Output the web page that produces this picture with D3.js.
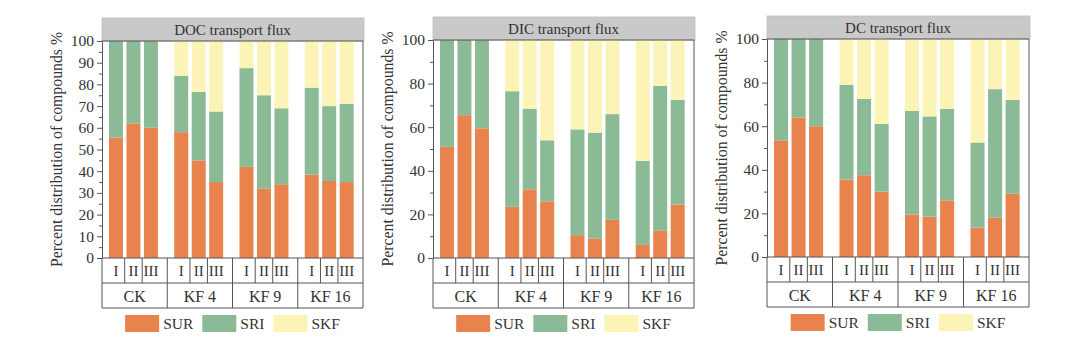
<!DOCTYPE html>
<html>
<head>
<meta charset="utf-8">
<script src="https://cdn.jsdelivr.net/npm/d3@7/dist/d3.min.js"></script>
<style>
  html, body { margin: 0; padding: 0; background: #fff; }
  svg { display: block; }
  text { font-family: "Liberation Serif", "DejaVu Serif", serif; fill: #333; }
</style>
</head>
<body>
<svg id="chart" width="1080" height="347"></svg>
<script>
// ---------- data ----------
const groups = ["CK", "KF 4", "KF 9", "KF 16"];
const reps = ["I", "II", "III"];
const seriesNames = ["SUR", "SRI", "SKF"];

const docSUR = [55.5, 62, 60, 58, 45, 35, 42, 32, 34, 38.5, 35.5, 35];
const docSRI = [44.5, 38, 40, 26, 31.5, 32.5, 45.5, 43, 35, 40, 34.5, 36];
const docSKF = [0, 0, 0, 16, 23.5, 32.5, 12.5, 25, 31, 21.5, 30, 29];

const dicSUR = [51, 65.5, 59.5, 23.5, 31.5, 26, 10.5, 9, 17.5, 6, 12.5, 24.5];
const dicSRI = [49, 34.5, 40.5, 53, 37, 28, 48.5, 48.5, 48.5, 38.5, 66.5, 48];
const dicSKF = [0, 0, 0, 23.5, 31.5, 46, 41, 42.5, 34, 55.5, 21, 27.5];

const dcSUR = [53.5, 64, 60, 35.5, 37.5, 30, 19.5, 18.5, 26, 13.5, 18, 29];
const dcSRI = [46.5, 36, 40, 43.5, 35, 31, 47.5, 46, 42, 39, 59, 43];
const dcSKF = [0, 0, 0, 21, 27.5, 39, 33, 35.5, 32, 47.5, 23, 28];

const panelTitles = ["DOC transport flux", "DIC transport flux", "DC transport flux"];
const yTitle = "Percent distribution of compounds %";
const yTicksMajor = [[0,10,20,30,40,50,60,70,80,90,100], [0,20,40,60,80,100], [0,20,40,60,80,100]];
const yTicksMinor = [[5,15,25,35,45,55,65,75,85,95], [10,30,50,70,90], [10,30,50,70,90]];

// ---------- styling / layout ----------
const colors = { SUR: "#E8834E", SRI: "#8BBA96", SKF: "#FBF4B6" };
const panels = [
  { x0: 102, x1: 363, yTop: 41, yBot: 258, data: [docSUR, docSRI, docSKF] },
  { x0: 433, x1: 694, yTop: 40, yBot: 258, data: [dicSUR, dicSRI, dicSKF] },
  { x0: 767, x1: 1029, yTop: 39, yBot: 257, data: [dcSUR, dcSRI, dcSKF] }
];

const svg = d3.select("#chart");
const lineCol = "#555";

panels.forEach((p, pi) => {
  const W = p.x1 - p.x0;
  const g = svg.append("g");

  const y = d3.scaleLinear().domain([0, 100]).range([p.yBot, p.yTop]);
  const xg = d3.scaleBand().domain(groups).range([p.x0, p.x1]);
  const gw = xg.bandwidth();
  const xr = d3.scaleBand().domain(reps).range([gw * 0.107, gw * 0.857]).paddingInner(0.2);

  const rows = [];
  groups.forEach((gr, gi) => reps.forEach((r, ri) => {
    const idx = gi * 3 + ri;
    rows.push({ group: gr, rep: r, SUR: p.data[0][idx], SRI: p.data[1][idx], SKF: p.data[2][idx] });
  }));
  const stacked = d3.stack().keys(seriesNames)(rows);

  // title box
  g.append("rect")
    .attr("x", p.x0).attr("y", p.yTop - 23)
    .attr("width", W + 1).attr("height", 23)
    .attr("fill", "#C9C9C9").attr("stroke", "#bdbdbd").attr("stroke-width", 0.8);
  g.append("text")
    .attr("x", (p.x0 + p.x1) / 2).attr("y", p.yTop - 6.5)
    .attr("text-anchor", "middle").attr("font-size", 15)
    .text(panelTitles[pi]);

  // bars
  stacked.forEach(layer => {
    g.append("g").selectAll("rect").data(layer).join("rect")
      .attr("x", d => xg(d.data.group) + xr(d.data.rep))
      .attr("width", xr.bandwidth())
      .attr("y", d => y(d[1]))
      .attr("height", d => Math.max(0, y(d[0]) - y(d[1])))
      .attr("fill", colors[layer.key]);
  });

  // frame (top & right)
  g.append("line").attr("x1", p.x0).attr("x2", p.x1).attr("y1", p.yTop).attr("y2", p.yTop)
    .attr("stroke", lineCol).attr("stroke-width", 1);
  g.append("line").attr("x1", p.x1).attr("x2", p.x1).attr("y1", p.yTop).attr("y2", p.yBot)
    .attr("stroke", lineCol).attr("stroke-width", 1);

  // y axis
  const yAxis = d3.axisLeft(y).tickValues(yTicksMajor[pi]).tickSize(5).tickSizeOuter(0).tickPadding(3);
  const ya = g.append("g").attr("transform", `translate(${p.x0},0)`).call(yAxis);
  ya.select(".domain").attr("stroke", lineCol);
  ya.selectAll(".tick line").attr("stroke", lineCol);
  ya.selectAll(".tick text").attr("font-size", 15.5).attr("fill", "#333")
    .attr("font-family", '"Liberation Serif", serif');
  const yMinor = d3.axisLeft(y).tickValues(yTicksMinor[pi]).tickSize(3).tickFormat("");
  const ym = g.append("g").attr("transform", `translate(${p.x0},0)`).call(yMinor);
  ym.select(".domain").remove();
  ym.selectAll(".tick line").attr("stroke", lineCol);

  // y title
  g.append("text")
    .attr("transform", `translate(${p.x0 - 40},${(p.yTop + p.yBot) / 2}) rotate(-90)`)
    .attr("text-anchor", "middle").attr("font-size", 15.8)
    .text(yTitle);

  // category table
  const r1 = p.yBot, r2 = p.yBot + 25, r3 = p.yBot + 50;
  const tbl = g.append("g").attr("stroke", lineCol).attr("stroke-width", 1);
  tbl.append("line").attr("x1", p.x0).attr("x2", p.x1).attr("y1", r1).attr("y2", r1);
  tbl.append("line").attr("x1", p.x0).attr("x2", p.x1).attr("y1", r2).attr("y2", r2);
  tbl.append("line").attr("x1", p.x0).attr("x2", p.x1).attr("y1", r3).attr("y2", r3);
  tbl.append("line").attr("x1", p.x0).attr("x2", p.x0).attr("y1", r1).attr("y2", r3);
  tbl.selectAll(".gsep").data(groups).join("line")
    .attr("x1", d => xg(d) + gw).attr("x2", d => xg(d) + gw)
    .attr("y1", r1).attr("y2", r3);
  const subDiv = [];
  groups.forEach(gr => {
    for (let i = 0; i < 2; i++) {
      const a = xg(gr) + xr(reps[i]) + xr.bandwidth();
      const b = xg(gr) + xr(reps[i + 1]);
      subDiv.push((a + b) / 2);
    }
  });
  tbl.selectAll(".sd").data(subDiv).join("line")
    .attr("x1", d => d).attr("x2", d => d).attr("y1", r1).attr("y2", r2);

  g.append("g").selectAll("text").data(rows).join("text")
    .attr("x", d => xg(d.group) + xr(d.rep) + xr.bandwidth() / 2)
    .attr("y", r1 + 18).attr("text-anchor", "middle").attr("font-size", 15)
    .text(d => d.rep);
  g.append("g").selectAll("text").data(groups).join("text")
    .attr("x", d => xg(d) + gw / 2)
    .attr("y", r2 + 18.5).attr("text-anchor", "middle").attr("font-size", 16)
    .text(d => d);

  // legend
  const lg = g.append("g");
  let cx = 0;
  seriesNames.forEach(s => {
    const it = lg.append("g").attr("transform", `translate(${cx},0)`);
    it.append("rect").attr("x", 0).attr("y", 0).attr("width", 34).attr("height", 17).attr("fill", colors[s]);
    const t = it.append("text").attr("x", 38).attr("y", 14).attr("font-size", 15.5).text(s);
    cx += 38 + t.node().getComputedTextLength() + 9;
  });
  const lw = cx - 9;
  lg.attr("transform", `translate(${(p.x0 + p.x1) / 2 - lw / 2},${p.yBot + 57})`);
});
</script>
</body>
</html>
